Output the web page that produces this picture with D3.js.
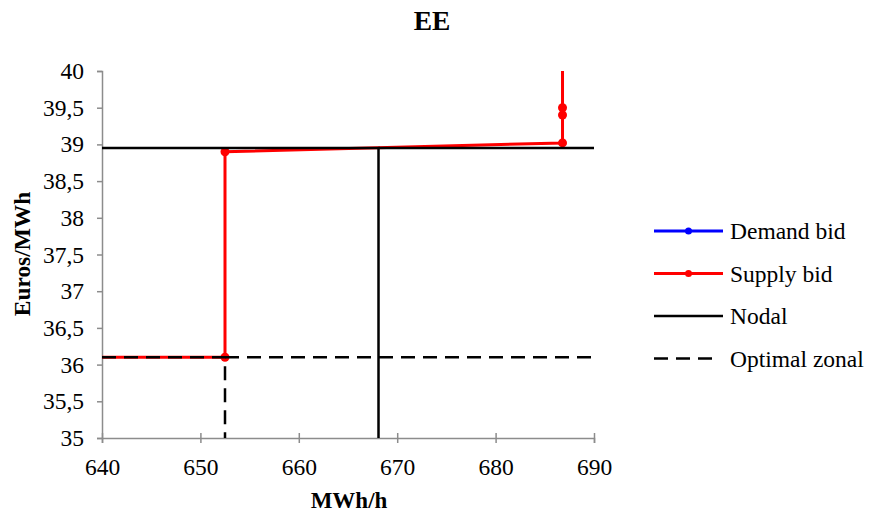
<!DOCTYPE html>
<html>
<head>
<meta charset="utf-8">
<script src="https://cdn.jsdelivr.net/npm/d3@7/dist/d3.min.js"></script>
<style>
  body { margin: 0; background: #fff; }
</style>
</head>
<body>
<svg id="chart" width="869" height="515"></svg>
<script>
// data
const xTicks = [640, 650, 660, 670, 680, 690];
const yTicks = [35, 35.5, 36, 36.5, 37, 37.5, 38, 38.5, 39, 39.5, 40];

const demandBid = []; // not visible inside the plotted window
const supplyBidX = [600, 652.5, 652.5, 686.8, 686.8, 686.8, 686.8];
const supplyBidY = [36.1, 36.1, 38.9, 39.02, 39.4, 39.5, 45];

const nodalX = [640, 668.1, 668.1];
const nodalY = [38.95, 38.95, 35];
const nodalX2 = [668.1, 690];
const nodalY2 = [38.95, 38.95];

const zonalX = [640, 652.5, 652.5];
const zonalY = [36.1, 36.1, 35];
const zonalX2 = [652.5, 690];
const zonalY2 = [36.1, 36.1];

const legendLabels = ["Demand bid", "Supply bid", "Nodal", "Optimal zonal"];

const FONT = "'Liberation Serif', 'Times New Roman', serif";
const FS = 23.5;

const chartSettings = {
  width: 869,
  height: 515,
  marginTop: 71,
  marginRight: 275,
  marginBottom: 77,
  marginLeft: 102,
};
const dms = {
  ...chartSettings,
  boundedWidth: chartSettings.width - chartSettings.marginLeft - chartSettings.marginRight,
  boundedHeight: chartSettings.height - chartSettings.marginTop - chartSettings.marginBottom,
};

const svg = d3.select("#chart");

svg.append("defs")
  .append("clipPath")
  .attr("id", "plot-clip")
  .append("rect")
  .attr("x", 0)
  .attr("y", 0)
  .attr("width", dms.boundedWidth + 2)
  .attr("height", dms.boundedHeight);

const bounds = svg
  .append("g")
  .attr("transform", `translate(${dms.marginLeft}, ${dms.marginTop})`);

const xScale = d3.scaleLinear().domain([640, 690]).range([0, dms.boundedWidth]);
const yScale = d3.scaleLinear().domain([35, 40]).range([dms.boundedHeight, 0]);

const fmt = (d) => String(d).replace(".", ",");
const axisColor = "#8c8c8c";

// y axis
const yAxis = bounds.append("g")
  .call(d3.axisLeft(yScale).tickValues(yTicks).tickSize(5).tickPadding(13).tickFormat(fmt));

// x axis (ticks cross the line)
const xAxis = bounds.append("g")
  .attr("transform", `translate(0, ${dms.boundedHeight})`)
  .call(d3.axisBottom(xScale).tickValues(xTicks).tickSize(5).tickPadding(15).tickFormat(fmt));
xAxis.selectAll(".tick line").attr("y1", -5);

[yAxis, xAxis].forEach((ax) => {
  ax.attr("font-family", FONT).attr("font-size", FS);
  ax.selectAll("text").attr("fill", "#000");
  ax.select(".domain").attr("stroke", axisColor).attr("stroke-width", 1.5);
  ax.selectAll(".tick line").attr("stroke", axisColor).attr("stroke-width", 1.5);
});

const plot = bounds.append("g").attr("clip-path", "url(#plot-clip)");

const line = d3.line().x((d) => xScale(d[0])).y((d) => yScale(d[1]));
const zip = (xs, ys) => xs.map((x, i) => [x, ys[i]]);

// supply bid
const supply = zip(supplyBidX, supplyBidY);
plot.append("path")
  .attr("d", line(supply))
  .attr("fill", "none")
  .attr("stroke", "#ff0000")
  .attr("stroke-width", 3);

plot.selectAll(".supply-dot")
  .data(supply)
  .enter()
  .append("circle")
  .attr("class", "supply-dot")
  .attr("cx", (d) => xScale(d[0]))
  .attr("cy", (d) => yScale(d[1]))
  .attr("r", 4.5)
  .attr("fill", "#ff0000");

// demand bid (empty in view)
plot.selectAll(".demand-dot")
  .data(demandBid)
  .enter()
  .append("circle")
  .attr("r", 4.5)
  .attr("fill", "#0000ff");

// nodal
[[nodalX, nodalY], [nodalX2, nodalY2]].forEach(([xs, ys]) => {
  plot.append("path")
    .attr("d", line(zip(xs, ys)))
    .attr("fill", "none")
    .attr("stroke", "#000")
    .attr("stroke-width", 2.5);
});

// optimal zonal, dashes sit on top of the red line
[[zonalX, zonalY], [zonalX2, zonalY2]].forEach(([xs, ys]) => {
  plot.append("path")
    .attr("d", line(zip(xs, ys)))
    .attr("fill", "none")
    .attr("stroke", "#000")
    .attr("stroke-width", 2.5)
    .attr("stroke-dasharray", "14,8");
});

// titles
svg.append("text")
  .attr("x", 432)
  .attr("y", 30)
  .attr("text-anchor", "middle")
  .attr("font-family", FONT)
  .attr("font-size", 27.5)
  .attr("font-weight", "bold")
  .text("EE");

svg.append("text")
  .attr("x", 349)
  .attr("y", 508)
  .attr("text-anchor", "middle")
  .attr("font-family", FONT)
  .attr("font-size", 23)
  .attr("font-weight", "bold")
  .text("MWh/h");

svg.append("text")
  .attr("transform", `translate(30, 254) rotate(-90)`)
  .attr("text-anchor", "middle")
  .attr("font-family", FONT)
  .attr("font-size", 23.4)
  .attr("font-weight", "bold")
  .text("Euros/MWh");

// legend
const legendStyles = [
  { color: "#0000ff", dash: null, dot: true, width: 3 },
  { color: "#ff0000", dash: null, dot: true, width: 3 },
  { color: "#000", dash: null, dot: false, width: 2.5 },
  { color: "#000", dash: "14,8", dot: false, width: 2.5 },
];
const legend = svg.append("g").attr("transform", "translate(654, 231)");
legendLabels.forEach((label, i) => {
  const g = legend.append("g").attr("transform", `translate(0, ${i * 42.5})`);
  const s = legendStyles[i];
  g.append("line")
    .attr("x1", 0).attr("x2", s.dash ? 58 : 69)
    .attr("y1", 0).attr("y2", 0)
    .attr("stroke", s.color)
    .attr("stroke-width", s.width)
    .attr("stroke-dasharray", s.dash);
  if (s.dot) {
    g.append("circle").attr("cx", 34.5).attr("cy", 0).attr("r", 3.5).attr("fill", s.color);
  }
  g.append("text")
    .attr("x", 76)
    .attr("y", 8)
    .attr("font-family", FONT)
    .attr("font-size", FS)
    .text(label);
});
</script>
</body>
</html>
